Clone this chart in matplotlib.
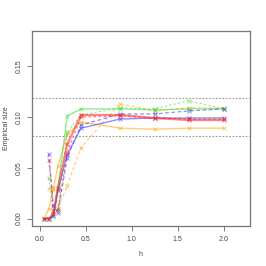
import matplotlib
matplotlib.use("Agg")
import matplotlib.pyplot as plt

plt.rcParams['font.family'] = ['Liberation Sans', 'DejaVu Sans']

h = [0.05, 0.1, 0.15, 0.2, 0.3, 0.45, 0.875, 1.25, 1.625, 2.0]

green_solid = [0.0, 0.0, 0.003, 0.030, 0.101, 0.108, 0.108, 0.107, 0.108, 0.108]
green_dash = [None, 0.040, 0.005, 0.010, 0.085, 0.102, 0.109, 0.108, 0.116, 0.108]
orange_solid = [0.0, 0.010, 0.030, 0.052, 0.083, 0.095, 0.089, 0.088, 0.089, 0.089]
orange_dash = [None, 0.029, 0.030, 0.010, 0.032, 0.070, 0.113, 0.106, 0.109, 0.109]
red_solid = [0.0, 0.0, 0.005, 0.030, 0.073, 0.102, 0.102, 0.099, 0.097, 0.097]
red_dash = [None, 0.058, 0.008, 0.008, 0.065, 0.100, 0.101, 0.099, 0.098, 0.098]
blue_solid = [0.0, 0.0, 0.003, 0.028, 0.063, 0.089, 0.098, 0.099, 0.099, 0.099]
blue_dash = [None, 0.064, 0.012, 0.006, 0.060, 0.092, 0.103, 0.103, 0.106, 0.108]

bands = [0.0814, 0.1186]

fig = plt.figure(figsize=(2.66, 2.66), dpi=100)
ax = fig.add_axes([31.5/266, 1-226/266, (250-31.5)/266, (226-31)/266])

def xy(vals):
    xs = [x for x, v in zip(h, vals) if v is not None]
    ys = [v for v in vals if v is not None]
    return xs, ys

series = [
    (orange_solid, '#FFA500', '-', 1.0),
    (orange_dash, '#FFA500', (0, (3, 2)), 0.8),
    (green_solid, '#33DD33', '-', 1.0),
    (green_dash, '#33DD33', (0, (2, 2)), 0.8),
    (blue_solid, '#3333FF', '-', 1.0),
    (blue_dash, '#3333FF', (0, (3, 2)), 0.9),
    (red_solid, '#FF2222', '-', 1.6),
    (red_dash, '#FF2222', (0, (2, 2)), 0.9),
]
for vals, col, ls, lw in series:
    xs, ys = xy(vals)
    ax.plot(xs, ys, color=col, linestyle=ls, linewidth=lw, alpha=0.55,
            marker='x', markersize=2.2, markeredgewidth=0.7)

for b in bands:
    ax.axhline(b, color='#999999', linestyle=(0, (1.5, 1.5)), linewidth=0.8)

ax.set_xlim(-0.088, 2.288)
ax.set_ylim(-0.0072, 0.1846)
ax.set_xticks([0.0, 0.5, 1.0, 1.5, 2.0])
ax.set_xticklabels(['0.0', '0.5', '1.0', '1.5', '2.0'])
ax.set_yticks([0.0, 0.05, 0.10, 0.15])
ax.set_yticklabels(['0.00', '0.05', '0.10', '0.15'], rotation=90, va='center')
ax.tick_params(labelsize=5, length=3.5, width=0.6, color='#666666', labelcolor='#444444')
ax.tick_params(axis='x', pad=3.5)
ax.tick_params(axis='y', pad=2.5)
for s in ax.spines.values():
    s.set_color('#777777')
    s.set_linewidth(0.9)
ax.set_xlabel('h', fontsize=5, color='#444444', labelpad=6)
ax.set_ylabel('Empirical size', fontsize=5, color='#444444', labelpad=4.5)

fig.savefig('out.png', dpi=100)
